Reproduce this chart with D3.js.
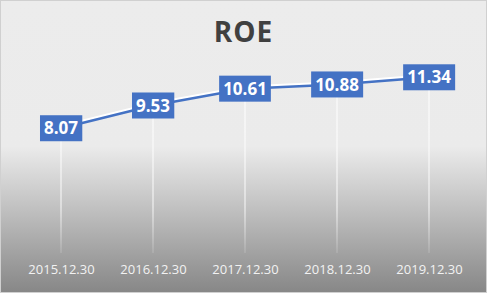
<!DOCTYPE html>
<html>
<head>
<meta charset="utf-8">
<script src="https://cdn.jsdelivr.net/npm/d3@7/dist/d3.min.js"></script>
<style>
  body { margin: 0; }
  .title { font: bold 28px "Open Sans", sans-serif; fill: #404040; letter-spacing: 1px; }
  .xlab { font: 13px "Open Sans", sans-serif; fill: #f2f2f2; }
  .vlab { font: bold 17px "Open Sans", sans-serif; fill: #ffffff; }
</style>
</head>
<body>
<div id="chart"></div>
<script>
// chart data
var categories = ["2015.12.30", "2016.12.30", "2017.12.30", "2018.12.30", "2019.12.30"];
var roe = [8.07, 9.53, 10.61, 10.88, 11.34];
var yDomain = [0, 12];

var width = 487, height = 293;
var plot = { left: 15, right: 475, top: 67, bottom: 254 };

var svg = d3.select('#chart').append('svg')
    .attr('width', width)
    .attr('height', height);

var defs = svg.append('defs');

// background gradient
var grad = defs.append('linearGradient')
    .attr('id', 'bg').attr('x1', 0).attr('y1', 0).attr('x2', 0).attr('y2', 1);
grad.append('stop').attr('offset', '0%').attr('stop-color', '#ececec');
grad.append('stop').attr('offset', '50%').attr('stop-color', '#ebebeb');
grad.append('stop').attr('offset', '100%').attr('stop-color', '#878787');

// drop line fade
var dg = defs.append('linearGradient')
    .attr('id', 'drop').attr('gradientUnits', 'userSpaceOnUse')
    .attr('x1', 0).attr('y1', plot.top).attr('x2', 0).attr('y2', plot.bottom);
dg.append('stop').attr('offset', '0%').attr('stop-color', '#ffffff').attr('stop-opacity', 1);
dg.append('stop').attr('offset', '75%').attr('stop-color', '#ffffff').attr('stop-opacity', 0.9);
dg.append('stop').attr('offset', '100%').attr('stop-color', '#ffffff').attr('stop-opacity', 0.2);

svg.append('rect')
    .attr('x', 0.5).attr('y', 0.5)
    .attr('width', width - 1).attr('height', height - 1)
    .attr('fill', 'url(#bg)')
    .attr('stroke', '#d0d0d0');

svg.append('text')
    .attr('class', 'title')
    .attr('x', width / 2).attr('y', 42)
    .attr('text-anchor', 'middle')
    .text('ROE');

var x = d3.scalePoint()
    .domain(categories)
    .range([plot.left, plot.right])
    .padding(0.5);

var y = d3.scaleLinear()
    .domain(yDomain)
    .range([plot.bottom, plot.top]);

// drop lines from each point
svg.append('g').selectAll('line')
    .data(roe)
    .enter().append('line')
    .attr('x1', function(d, i) { return x(categories[i]); })
    .attr('x2', function(d, i) { return x(categories[i]); })
    .attr('y1', function(d) { return y(d); })
    .attr('y2', plot.bottom - 1)
    .attr('stroke', 'url(#drop)')
    .attr('stroke-width', 1);

// x axis labels
var xAxis = d3.axisBottom(x).tickSize(0).tickPadding(0);
var gx = svg.append('g')
    .attr('transform', 'translate(0,' + 270 + ')')
    .call(xAxis);
gx.select('.domain').remove();
gx.selectAll('text')
    .attr('class', 'xlab')
    .attr('dy', '0.32em')
    .attr('fill', null);

// line with white highlight
var line = d3.line()
    .x(function(d, i) { return x(categories[i]); })
    .y(function(d) { return y(d); });

svg.append('path')
    .datum(roe)
    .attr('d', line)
    .attr('transform', 'translate(0,-1.5)')
    .attr('fill', 'none')
    .attr('stroke', '#ffffff')
    .attr('stroke-width', 3.5);

svg.append('path')
    .datum(roe)
    .attr('d', line)
    .attr('fill', 'none')
    .attr('stroke', '#4472c4')
    .attr('stroke-width', 2.5);

// value labels in blue boxes
var labels = svg.append('g').selectAll('g')
    .data(roe)
    .enter().append('g')
    .attr('transform', function(d, i) {
        return 'translate(' + x(categories[i]) + ',' + y(d) + ')';
    });

labels.append('text')
    .attr('class', 'vlab')
    .attr('text-anchor', 'middle')
    .attr('dy', '0.36em')
    .text(function(d) { return d.toFixed(2); });

labels.each(function() {
    var g = d3.select(this);
    var bb = g.select('text').node().getBBox();
    g.insert('rect', 'text')
        .attr('x', bb.x - 4)
        .attr('y', -13)
        .attr('width', bb.width + 8)
        .attr('height', 26)
        .attr('fill', '#4472c4');
});
</script>
</body>
</html>
